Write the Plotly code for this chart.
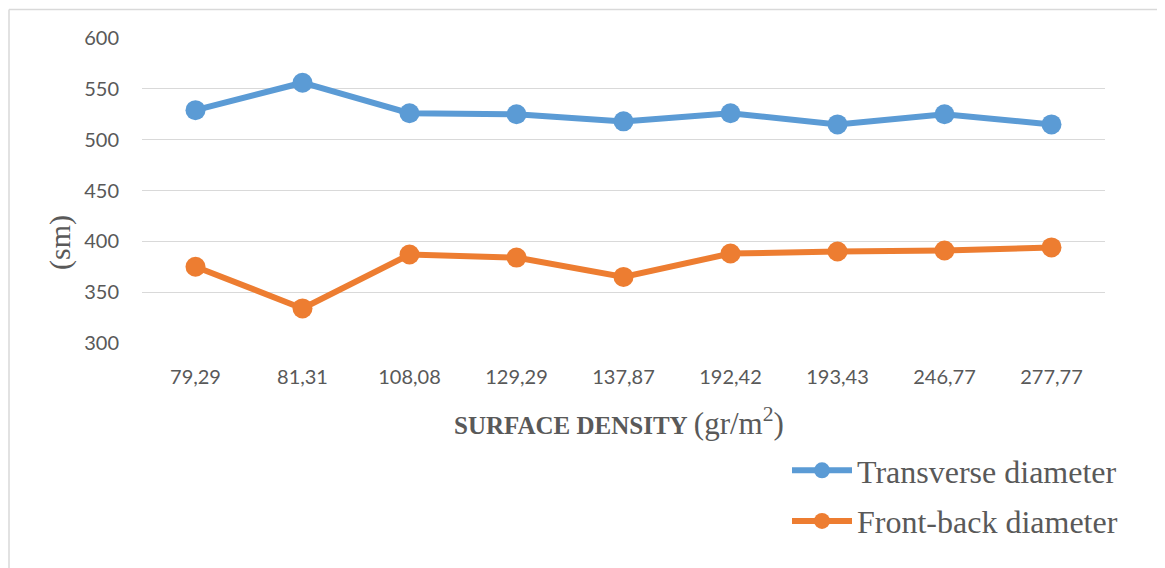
import plotly.graph_objects as go

categories = ["79,29", "81,31", "108,08", "129,29", "137,87", "192,42", "193,43", "246,77", "277,77"]
transverse = [529, 556, 526, 525, 518, 526, 515, 525, 515]
front_back = [375, 334, 387, 384, 365, 388, 390, 391, 394]
series_names = ["Transverse diameter", "Front-back diameter"]
colors = ["#5B9BD5", "#ED7D31"]

W, H = 1165, 568
OFF = 8  # page body offset
# desired plot area in page pixels
L, R, T, B = 142, 1105, 38, 343
Lf, Rf, Tf, Bf = L - OFF, R - OFF, T - OFF, B - OFF

fig = go.Figure()
for i, (name, vals) in enumerate(zip(series_names, [transverse, front_back])):
    fig.add_trace(go.Scatter(
        x=categories, y=vals, name=name, mode="lines+markers",
        line=dict(color=colors[i], width=6),
        marker=dict(color=colors[i], size=20),
        legendgroup=f"g{i}",
    ))

def px_x(p):
    return (p - L) / (R - L)

def px_y(p):
    return (B - p) / (B - T)

# chart border: top and left edges only (rest cropped)
fig.add_shape(type="line", xref="paper", yref="paper",
              x0=px_x(9), x1=px_x(1175), y0=px_y(9.5), y1=px_y(9.5),
              line=dict(color="#D9D9D9", width=1.5), layer="below")
fig.add_shape(type="line", xref="paper", yref="paper",
              x0=px_x(9), x1=px_x(9), y0=px_y(9.5), y1=px_y(580),
              line=dict(color="#D9D9D9", width=1.5), layer="below")

fig.add_annotation(xref="paper", yref="paper", x=px_x(60), y=px_y(243),
                   text="(sm)", textangle=-90, showarrow=False,
                   font=dict(family="Liberation Serif", size=30, color="#595959"),
                   xanchor="center", yanchor="middle")
fig.add_annotation(xref="paper", yref="paper", x=px_x(619), y=px_y(421),
                   text="<b>SURFACE DENSITY</b> <span style='font-size:31px'>(gr/m<sup>2</sup>)</span>",
                   showarrow=False,
                   font=dict(family="Liberation Serif", size=25, color="#595959"),
                   xanchor="center", yanchor="middle")

fig.update_layout(
    width=W, height=H,
    margin=dict(l=Lf, r=W - Rf, t=Tf, b=H - Bf),
    paper_bgcolor="white", plot_bgcolor="white",
    showlegend=True,
    legend=dict(x=px_x(787), y=px_y(443), xanchor="left", yanchor="top",
                font=dict(family="Liberation Serif", size=32, color="#595959"),
                tracegroupgap=6, itemwidth=60, bgcolor="rgba(0,0,0,0)"),
    xaxis=dict(type="category", showgrid=False, showline=False, zeroline=False,
               ticks="", tickfont=dict(family="Lato", size=20, color="#595959"),
               ticklabelstandoff=20, range=[-0.5, 8.5]),
    yaxis=dict(range=[300, 600], dtick=50, showgrid=True, gridcolor="#D9D9D9", gridwidth=1.3,
               zeroline=False, showline=False, ticks="",
               tickfont=dict(family="Lato", size=20, color="#595959"),
               ticklabelstandoff=22),
)

fig.write_html("out.html")
